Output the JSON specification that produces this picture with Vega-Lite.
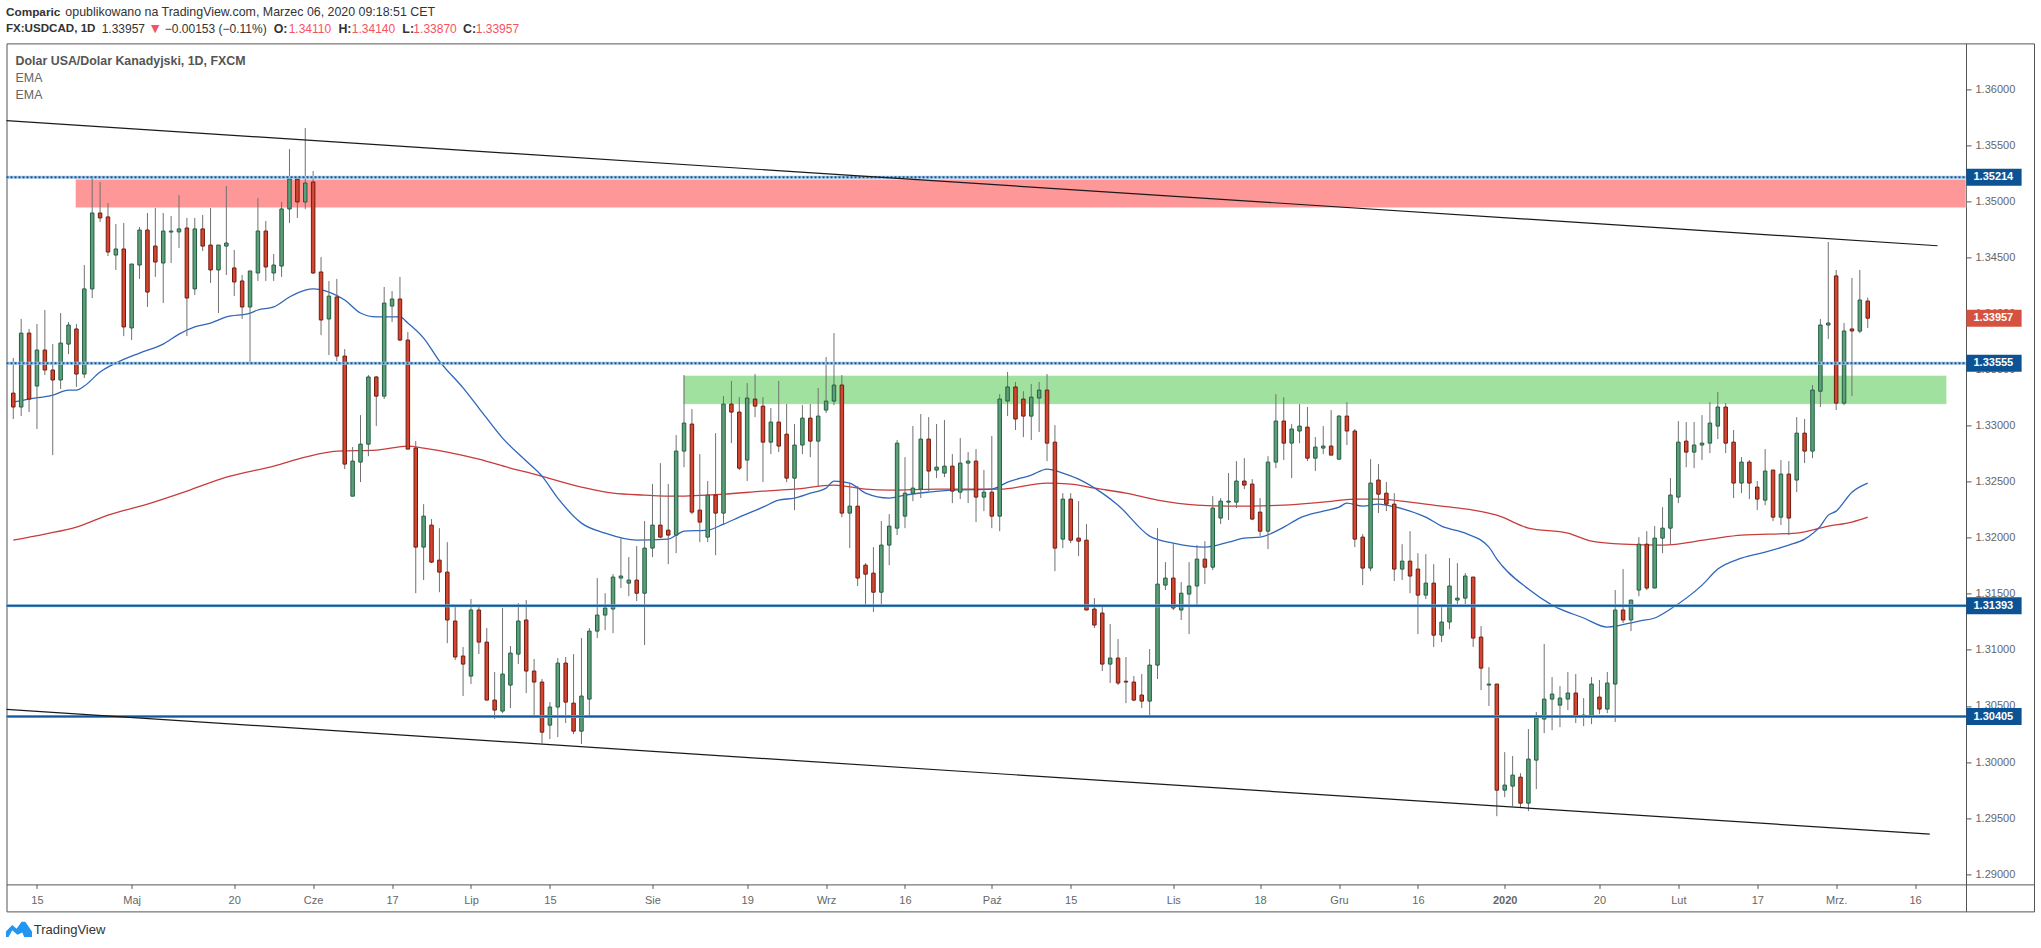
{
"$schema":"https://vega.github.io/schema/vega-lite/v6.json",
"width":2027.5,"height":868,"autosize":"none",
"padding":{"left":6.5,"top":43.4,"right":7,"bottom":36.6},
"background":"white",
"datasets":{
"candles":[
{"bar":0,"open":1.33289,"high":1.33602,"low":1.33058,"close":1.33165},
{"bar":1,"open":1.33165,"high":1.33950,"low":1.33084,"close":1.33824},
{"bar":2,"open":1.33824,"high":1.33861,"low":1.33120,"close":1.33236},
{"bar":3,"open":1.33352,"high":1.33905,"low":1.32969,"close":1.33673},
{"bar":4,"open":1.33673,"high":1.34030,"low":1.33450,"close":1.33495},
{"bar":5,"open":1.33495,"high":1.33726,"low":1.32736,"close":1.33406},
{"bar":6,"open":1.33406,"high":1.34003,"low":1.33326,"close":1.33735},
{"bar":7,"open":1.33726,"high":1.33923,"low":1.33637,"close":1.33896},
{"bar":8,"open":1.33861,"high":1.33905,"low":1.33344,"close":1.33459},
{"bar":9,"open":1.33459,"high":1.34431,"low":1.33424,"close":1.34218},
{"bar":10,"open":1.34218,"high":1.35207,"low":1.34137,"close":1.34895},
{"bar":11,"open":1.34895,"high":1.35171,"low":1.34815,"close":1.34851},
{"bar":12,"open":1.34860,"high":1.34984,"low":1.34511,"close":1.34547},
{"bar":13,"open":1.34520,"high":1.34797,"low":1.34387,"close":1.34574},
{"bar":14,"open":1.34574,"high":1.34806,"low":1.33797,"close":1.33879},
{"bar":15,"open":1.33870,"high":1.34440,"low":1.33762,"close":1.34440},
{"bar":16,"open":1.34431,"high":1.34770,"low":1.34307,"close":1.34743},
{"bar":17,"open":1.34743,"high":1.34895,"low":1.34057,"close":1.34190},
{"bar":18,"open":1.34600,"high":1.34940,"low":1.34325,"close":1.34458},
{"bar":19,"open":1.34449,"high":1.34895,"low":1.34092,"close":1.34734},
{"bar":20,"open":1.34725,"high":1.34868,"low":1.34449,"close":1.34734},
{"bar":21,"open":1.34726,"high":1.35054,"low":1.34583,"close":1.34753},
{"bar":22,"open":1.34761,"high":1.34851,"low":1.33797,"close":1.34137},
{"bar":23,"open":1.34218,"high":1.34851,"low":1.34164,"close":1.34753},
{"bar":24,"open":1.34753,"high":1.34877,"low":1.34556,"close":1.34600},
{"bar":25,"open":1.34609,"high":1.34940,"low":1.34271,"close":1.34387},
{"bar":26,"open":1.34387,"high":1.34609,"low":1.34003,"close":1.34609},
{"bar":27,"open":1.34600,"high":1.35135,"low":1.34342,"close":1.34627},
{"bar":28,"open":1.34405,"high":1.34565,"low":1.34154,"close":1.34280},
{"bar":29,"open":1.34289,"high":1.34342,"low":1.33950,"close":1.34057},
{"bar":30,"open":1.34057,"high":1.34378,"low":1.33557,"close":1.34378},
{"bar":31,"open":1.34360,"high":1.35028,"low":1.34289,"close":1.34734},
{"bar":32,"open":1.34734,"high":1.34824,"low":1.34289,"close":1.34414},
{"bar":33,"open":1.34360,"high":1.34529,"low":1.34289,"close":1.34431},
{"bar":34,"open":1.34422,"high":1.34993,"low":1.34325,"close":1.34931},
{"bar":35,"open":1.34931,"high":1.35465,"low":1.34806,"close":1.35198},
{"bar":36,"open":1.35198,"high":1.35216,"low":1.34851,"close":1.34993},
{"bar":37,"open":1.34993,"high":1.35653,"low":1.34931,"close":1.35162},
{"bar":38,"open":1.35171,"high":1.35269,"low":1.34351,"close":1.34360},
{"bar":39,"open":1.34369,"high":1.34502,"low":1.33806,"close":1.33941},
{"bar":40,"open":1.33950,"high":1.34289,"low":1.33628,"close":1.34154},
{"bar":41,"open":1.34146,"high":1.34307,"low":1.33575,"close":1.33619},
{"bar":42,"open":1.33619,"high":1.33682,"low":1.32612,"close":1.32656},
{"bar":43,"open":1.32370,"high":1.32808,"low":1.32370,"close":1.32683},
{"bar":44,"open":1.32674,"high":1.33093,"low":1.32496,"close":1.32834},
{"bar":45,"open":1.32834,"high":1.33450,"low":1.32727,"close":1.33433},
{"bar":46,"open":1.33433,"high":1.33441,"low":1.32995,"close":1.33262},
{"bar":47,"open":1.33262,"high":1.34235,"low":1.33236,"close":1.34092},
{"bar":48,"open":1.34065,"high":1.34199,"low":1.33923,"close":1.34128},
{"bar":49,"open":1.34128,"high":1.34325,"low":1.33753,"close":1.33762},
{"bar":50,"open":1.33762,"high":1.33833,"low":1.32790,"close":1.32790},
{"bar":51,"open":1.32799,"high":1.32861,"low":1.31505,"close":1.31916},
{"bar":52,"open":1.31916,"high":1.32299,"low":1.31622,"close":1.32192},
{"bar":53,"open":1.32112,"high":1.32166,"low":1.31773,"close":1.31782},
{"bar":54,"open":1.31800,"high":1.32085,"low":1.31514,"close":1.31693},
{"bar":55,"open":1.31693,"high":1.31960,"low":1.31060,"close":1.31266},
{"bar":56,"open":1.31257,"high":1.31382,"low":1.30909,"close":1.30936},
{"bar":57,"open":1.30945,"high":1.31025,"low":1.30588,"close":1.30873},
{"bar":58,"open":1.30766,"high":1.31453,"low":1.30695,"close":1.31355},
{"bar":59,"open":1.31355,"high":1.31390,"low":1.30962,"close":1.31069},
{"bar":60,"open":1.31069,"high":1.31194,"low":1.30552,"close":1.30552},
{"bar":61,"open":1.30552,"high":1.30802,"low":1.30383,"close":1.30463},
{"bar":62,"open":1.30454,"high":1.31373,"low":1.30436,"close":1.30784},
{"bar":63,"open":1.30686,"high":1.31034,"low":1.30481,"close":1.30971},
{"bar":64,"open":1.30962,"high":1.31417,"low":1.30873,"close":1.31257},
{"bar":65,"open":1.31266,"high":1.31444,"low":1.30615,"close":1.30811},
{"bar":66,"open":1.30811,"high":1.30918,"low":1.30418,"close":1.30713},
{"bar":67,"open":1.30713,"high":1.30740,"low":1.30168,"close":1.30266},
{"bar":68,"open":1.30329,"high":1.30534,"low":1.30204,"close":1.30490},
{"bar":69,"open":1.30490,"high":1.30927,"low":1.30222,"close":1.30882},
{"bar":70,"open":1.30882,"high":1.30936,"low":1.30347,"close":1.30534},
{"bar":71,"open":1.30525,"high":1.30962,"low":1.30248,"close":1.30275},
{"bar":72,"open":1.30275,"high":1.31105,"low":1.30160,"close":1.30588},
{"bar":73,"open":1.30561,"high":1.31194,"low":1.30400,"close":1.31167},
{"bar":74,"open":1.31167,"high":1.31640,"low":1.31105,"close":1.31310},
{"bar":75,"open":1.31310,"high":1.31505,"low":1.31176,"close":1.31373},
{"bar":76,"open":1.31364,"high":1.31675,"low":1.31149,"close":1.31649},
{"bar":77,"open":1.31640,"high":1.31996,"low":1.31551,"close":1.31658},
{"bar":78,"open":1.31595,"high":1.31827,"low":1.31478,"close":1.31622},
{"bar":79,"open":1.31622,"high":1.31925,"low":1.31435,"close":1.31505},
{"bar":80,"open":1.31505,"high":1.32148,"low":1.31043,"close":1.31907},
{"bar":81,"open":1.31907,"high":1.32478,"low":1.31827,"close":1.32112},
{"bar":82,"open":1.32112,"high":1.32665,"low":1.31996,"close":1.32005},
{"bar":83,"open":1.32067,"high":1.32478,"low":1.31764,"close":1.32023},
{"bar":84,"open":1.32023,"high":1.32915,"low":1.31862,"close":1.32772},
{"bar":85,"open":1.32772,"high":1.33450,"low":1.32629,"close":1.33022},
{"bar":86,"open":1.33013,"high":1.33147,"low":1.32210,"close":1.32228},
{"bar":87,"open":1.32246,"high":1.32745,"low":1.31960,"close":1.32139},
{"bar":88,"open":1.32005,"high":1.32505,"low":1.31960,"close":1.32380},
{"bar":89,"open":1.32380,"high":1.32932,"low":1.31844,"close":1.32219},
{"bar":90,"open":1.32219,"high":1.33262,"low":1.32112,"close":1.33191},
{"bar":91,"open":1.33191,"high":1.33397,"low":1.32843,"close":1.33120},
{"bar":92,"open":1.33120,"high":1.33253,"low":1.32603,"close":1.32620},
{"bar":93,"open":1.32692,"high":1.33379,"low":1.32505,"close":1.33245},
{"bar":94,"open":1.33236,"high":1.33459,"low":1.33075,"close":1.33173},
{"bar":95,"open":1.33173,"high":1.33253,"low":1.32496,"close":1.32852},
{"bar":96,"open":1.32852,"high":1.33156,"low":1.32745,"close":1.33031},
{"bar":97,"open":1.33031,"high":1.33397,"low":1.32763,"close":1.32817},
{"bar":98,"open":1.32923,"high":1.33191,"low":1.32496,"close":1.32531},
{"bar":99,"open":1.32531,"high":1.33013,"low":1.32246,"close":1.32826},
{"bar":100,"open":1.32826,"high":1.33182,"low":1.32745,"close":1.33066},
{"bar":101,"open":1.33066,"high":1.33191,"low":1.32718,"close":1.32861},
{"bar":102,"open":1.32861,"high":1.33335,"low":1.32461,"close":1.33084},
{"bar":103,"open":1.33138,"high":1.33611,"low":1.33111,"close":1.33218},
{"bar":104,"open":1.33218,"high":1.33824,"low":1.33182,"close":1.33361},
{"bar":105,"open":1.33361,"high":1.33450,"low":1.32183,"close":1.32219},
{"bar":106,"open":1.32219,"high":1.32487,"low":1.31907,"close":1.32281},
{"bar":107,"open":1.32281,"high":1.32461,"low":1.31569,"close":1.31640},
{"bar":108,"open":1.31755,"high":1.31773,"low":1.31382,"close":1.31675},
{"bar":109,"open":1.31684,"high":1.31916,"low":1.31337,"close":1.31514},
{"bar":110,"open":1.31514,"high":1.32148,"low":1.31390,"close":1.31934},
{"bar":111,"open":1.31934,"high":1.32210,"low":1.31755,"close":1.32103},
{"bar":112,"open":1.32085,"high":1.32870,"low":1.32023,"close":1.32843},
{"bar":113,"open":1.32192,"high":1.32718,"low":1.32085,"close":1.32397},
{"bar":114,"open":1.32397,"high":1.32995,"low":1.32326,"close":1.32442},
{"bar":115,"open":1.32433,"high":1.33102,"low":1.32353,"close":1.32879},
{"bar":116,"open":1.32879,"high":1.33075,"low":1.32415,"close":1.32594},
{"bar":117,"open":1.32603,"high":1.33013,"low":1.32531,"close":1.32629},
{"bar":118,"open":1.32576,"high":1.33049,"low":1.32540,"close":1.32638},
{"bar":119,"open":1.32638,"high":1.32745,"low":1.32308,"close":1.32415},
{"bar":120,"open":1.32406,"high":1.32888,"low":1.32344,"close":1.32665},
{"bar":121,"open":1.32665,"high":1.32763,"low":1.32308,"close":1.32683},
{"bar":122,"open":1.32683,"high":1.32790,"low":1.32139,"close":1.32362},
{"bar":123,"open":1.32362,"high":1.32603,"low":1.32237,"close":1.32406},
{"bar":124,"open":1.32406,"high":1.32906,"low":1.32085,"close":1.32192},
{"bar":125,"open":1.32192,"high":1.33280,"low":1.32058,"close":1.33236},
{"bar":126,"open":1.33218,"high":1.33477,"low":1.33084,"close":1.33344},
{"bar":127,"open":1.33344,"high":1.33388,"low":1.32960,"close":1.33058},
{"bar":128,"open":1.33236,"high":1.33306,"low":1.32897,"close":1.33084},
{"bar":129,"open":1.33084,"high":1.33370,"low":1.32870,"close":1.33253},
{"bar":130,"open":1.33245,"high":1.33388,"low":1.32942,"close":1.33316},
{"bar":131,"open":1.33316,"high":1.33459,"low":1.32683,"close":1.32843},
{"bar":132,"open":1.32852,"high":1.33004,"low":1.31702,"close":1.31907},
{"bar":133,"open":1.31987,"high":1.32397,"low":1.31907,"close":1.32344},
{"bar":134,"open":1.32344,"high":1.32397,"low":1.31951,"close":1.31978},
{"bar":135,"open":1.31996,"high":1.32326,"low":1.31835,"close":1.31969},
{"bar":136,"open":1.31978,"high":1.32121,"low":1.31355,"close":1.31355},
{"bar":137,"open":1.31364,"high":1.31461,"low":1.31194,"close":1.31221},
{"bar":138,"open":1.31328,"high":1.31382,"low":1.30811,"close":1.30873},
{"bar":139,"open":1.30873,"high":1.31230,"low":1.30704,"close":1.30927},
{"bar":140,"open":1.30927,"high":1.31096,"low":1.30686,"close":1.30704},
{"bar":141,"open":1.30720,"high":1.30936,"low":1.30525,"close":1.30713},
{"bar":142,"open":1.30713,"high":1.30766,"low":1.30543,"close":1.30552},
{"bar":143,"open":1.30597,"high":1.30784,"low":1.30481,"close":1.30543},
{"bar":144,"open":1.30543,"high":1.31007,"low":1.30418,"close":1.30864},
{"bar":145,"open":1.30864,"high":1.32085,"low":1.30740,"close":1.31586},
{"bar":146,"open":1.31577,"high":1.31782,"low":1.31533,"close":1.31640},
{"bar":147,"open":1.31640,"high":1.31951,"low":1.31355,"close":1.31373},
{"bar":148,"open":1.31355,"high":1.31604,"low":1.31266,"close":1.31505},
{"bar":149,"open":1.31497,"high":1.31782,"low":1.31140,"close":1.31569},
{"bar":150,"open":1.31569,"high":1.31934,"low":1.31390,"close":1.31809},
{"bar":151,"open":1.31809,"high":1.31969,"low":1.31586,"close":1.31737},
{"bar":152,"open":1.31737,"high":1.32370,"low":1.31711,"close":1.32264},
{"bar":153,"open":1.32175,"high":1.32353,"low":1.32121,"close":1.32326},
{"bar":154,"open":1.32317,"high":1.32576,"low":1.32157,"close":1.32326},
{"bar":155,"open":1.32317,"high":1.32683,"low":1.32264,"close":1.32505},
{"bar":156,"open":1.32505,"high":1.32709,"low":1.32433,"close":1.32469},
{"bar":157,"open":1.32478,"high":1.32522,"low":1.32157,"close":1.32166},
{"bar":158,"open":1.32228,"high":1.32353,"low":1.32014,"close":1.32058},
{"bar":159,"open":1.32058,"high":1.32727,"low":1.31898,"close":1.32674},
{"bar":160,"open":1.32674,"high":1.33280,"low":1.32620,"close":1.33040},
{"bar":161,"open":1.33040,"high":1.33253,"low":1.32692,"close":1.32843},
{"bar":162,"open":1.32843,"high":1.33013,"low":1.32531,"close":1.32969},
{"bar":163,"open":1.32951,"high":1.33191,"low":1.32843,"close":1.32995},
{"bar":164,"open":1.32986,"high":1.33165,"low":1.32683,"close":1.32709},
{"bar":165,"open":1.32709,"high":1.32897,"low":1.32594,"close":1.32808},
{"bar":166,"open":1.32799,"high":1.32995,"low":1.32745,"close":1.32817},
{"bar":167,"open":1.32817,"high":1.33138,"low":1.32736,"close":1.32736},
{"bar":168,"open":1.32700,"high":1.33093,"low":1.32700,"close":1.33084},
{"bar":169,"open":1.33084,"high":1.33209,"low":1.32826,"close":1.32951},
{"bar":170,"open":1.32951,"high":1.32969,"low":1.31916,"close":1.31987},
{"bar":171,"open":1.32005,"high":1.32032,"low":1.31577,"close":1.31729},
{"bar":172,"open":1.31729,"high":1.32700,"low":1.31702,"close":1.32487},
{"bar":173,"open":1.32514,"high":1.32656,"low":1.32219,"close":1.32388},
{"bar":174,"open":1.32397,"high":1.32496,"low":1.32237,"close":1.32299},
{"bar":175,"open":1.32299,"high":1.32397,"low":1.31613,"close":1.31720},
{"bar":176,"open":1.31720,"high":1.31942,"low":1.31622,"close":1.31791},
{"bar":177,"open":1.31791,"high":1.32058,"low":1.31505,"close":1.31658},
{"bar":178,"open":1.31720,"high":1.31862,"low":1.31140,"close":1.31488},
{"bar":179,"open":1.31488,"high":1.31853,"low":1.31453,"close":1.31595},
{"bar":180,"open":1.31595,"high":1.31764,"low":1.31025,"close":1.31131},
{"bar":181,"open":1.31131,"high":1.31382,"low":1.31069,"close":1.31248},
{"bar":182,"open":1.31248,"high":1.31818,"low":1.31185,"close":1.31569},
{"bar":183,"open":1.31444,"high":1.31773,"low":1.31408,"close":1.31461},
{"bar":184,"open":1.31461,"high":1.31684,"low":1.31408,"close":1.31658},
{"bar":185,"open":1.31649,"high":1.31649,"low":1.31025,"close":1.31105},
{"bar":186,"open":1.31114,"high":1.31212,"low":1.30641,"close":1.30837},
{"bar":187,"open":1.30686,"high":1.30846,"low":1.30499,"close":1.30695},
{"bar":188,"open":1.30695,"high":1.30695,"low":1.29517,"close":1.29749},
{"bar":189,"open":1.29749,"high":1.30088,"low":1.29687,"close":1.29794},
{"bar":190,"open":1.29785,"high":1.30053,"low":1.29606,"close":1.29883},
{"bar":191,"open":1.29865,"high":1.29900,"low":1.29589,"close":1.29633},
{"bar":192,"open":1.29633,"high":1.30294,"low":1.29562,"close":1.30026},
{"bar":193,"open":1.30017,"high":1.30445,"low":1.29758,"close":1.30392},
{"bar":194,"open":1.30383,"high":1.31052,"low":1.30257,"close":1.30561},
{"bar":195,"open":1.30561,"high":1.30757,"low":1.30284,"close":1.30606},
{"bar":196,"open":1.30507,"high":1.30677,"low":1.30311,"close":1.30570},
{"bar":197,"open":1.30561,"high":1.30802,"low":1.30463,"close":1.30615},
{"bar":198,"open":1.30615,"high":1.30784,"low":1.30347,"close":1.30409},
{"bar":199,"open":1.30409,"high":1.30570,"low":1.30320,"close":1.30418},
{"bar":200,"open":1.30409,"high":1.30757,"low":1.30338,"close":1.30695},
{"bar":201,"open":1.30579,"high":1.30731,"low":1.30427,"close":1.30472},
{"bar":202,"open":1.30472,"high":1.30802,"low":1.30436,"close":1.30704},
{"bar":203,"open":1.30695,"high":1.31533,"low":1.30356,"close":1.31355},
{"bar":204,"open":1.31355,"high":1.31720,"low":1.31239,"close":1.31266},
{"bar":205,"open":1.31266,"high":1.31444,"low":1.31167,"close":1.31444},
{"bar":206,"open":1.31533,"high":1.32005,"low":1.31478,"close":1.31942},
{"bar":207,"open":1.31942,"high":1.32058,"low":1.31533,"close":1.31551},
{"bar":208,"open":1.31551,"high":1.32103,"low":1.31551,"close":1.31996},
{"bar":209,"open":1.31996,"high":1.32272,"low":1.31862,"close":1.32085},
{"bar":210,"open":1.32085,"high":1.32531,"low":1.31942,"close":1.32380},
{"bar":211,"open":1.32362,"high":1.33040,"low":1.32308,"close":1.32852},
{"bar":212,"open":1.32861,"high":1.33031,"low":1.32629,"close":1.32763},
{"bar":213,"open":1.32763,"high":1.33031,"low":1.32620,"close":1.32826},
{"bar":214,"open":1.32826,"high":1.33093,"low":1.32692,"close":1.32843},
{"bar":215,"open":1.32843,"high":1.33209,"low":1.32754,"close":1.33022},
{"bar":216,"open":1.32995,"high":1.33299,"low":1.32879,"close":1.33165},
{"bar":217,"open":1.33165,"high":1.33200,"low":1.32754,"close":1.32843},
{"bar":218,"open":1.32852,"high":1.32960,"low":1.32353,"close":1.32487},
{"bar":219,"open":1.32487,"high":1.32718,"low":1.32397,"close":1.32674},
{"bar":220,"open":1.32674,"high":1.32692,"low":1.32344,"close":1.32487},
{"bar":221,"open":1.32451,"high":1.32505,"low":1.32246,"close":1.32344},
{"bar":222,"open":1.32335,"high":1.32790,"low":1.32290,"close":1.32594},
{"bar":223,"open":1.32603,"high":1.32603,"low":1.32148,"close":1.32183},
{"bar":224,"open":1.32183,"high":1.32692,"low":1.32112,"close":1.32567},
{"bar":225,"open":1.32567,"high":1.32683,"low":1.32023,"close":1.32175},
{"bar":226,"open":1.32514,"high":1.33075,"low":1.32406,"close":1.32932},
{"bar":227,"open":1.32932,"high":1.33058,"low":1.32665,"close":1.32772},
{"bar":228,"open":1.32772,"high":1.33361,"low":1.32709,"close":1.33316},
{"bar":229,"open":1.33306,"high":1.33950,"low":1.33165,"close":1.33896},
{"bar":230,"open":1.33896,"high":1.34636,"low":1.33771,"close":1.33914},
{"bar":231,"open":1.34334,"high":1.34387,"low":1.33138,"close":1.33200},
{"bar":232,"open":1.33200,"high":1.33914,"low":1.33182,"close":1.33843},
{"bar":233,"open":1.33861,"high":1.34316,"low":1.33262,"close":1.33843},
{"bar":234,"open":1.33842,"high":1.34387,"low":1.33824,"close":1.34119},
{"bar":235,"open":1.34110,"high":1.34140,"low":1.33870,"close":1.33957}
],
"emaFast":[
{"bar":0,"ema":1.33209},{"bar":2,"ema":1.33236},{"bar":5,"ema":1.33271},{"bar":7,"ema":1.33316},{"bar":8,"ema":1.33316},{"bar":9,"ema":1.33352},{"bar":11,"ema":1.33477},{"bar":13,"ema":1.33557},{"bar":16,"ema":1.33646},{"bar":19,"ema":1.33726},{"bar":21,"ema":1.33815},{"bar":23,"ema":1.33879},{"bar":25,"ema":1.33914},{"bar":27,"ema":1.33968},{"bar":30,"ema":1.34003},{"bar":31,"ema":1.34030},{"bar":33,"ema":1.34057},{"bar":35,"ema":1.34146},{"bar":37,"ema":1.34208},{"bar":38,"ema":1.34218},{"bar":40,"ema":1.34190},{"bar":42,"ema":1.34119},{"bar":44,"ema":1.34003},{"bar":46,"ema":1.33968},{"bar":49,"ema":1.33968},{"bar":50,"ema":1.33914},{"bar":52,"ema":1.33780},{"bar":54,"ema":1.33575},{"bar":57,"ema":1.33335},{"bar":59,"ema":1.33156},{"bar":62,"ema":1.32888},{"bar":65,"ema":1.32683},{"bar":67,"ema":1.32549},{"bar":69,"ema":1.32353},{"bar":72,"ema":1.32130},{"bar":75,"ema":1.32040},{"bar":79,"ema":1.31978},{"bar":83,"ema":1.31987},{"bar":84,"ema":1.32023},{"bar":85,"ema":1.32058},{"bar":88,"ema":1.32067},{"bar":90,"ema":1.32121},{"bar":92,"ema":1.32183},{"bar":95,"ema":1.32272},{"bar":97,"ema":1.32335},{"bar":99,"ema":1.32353},{"bar":101,"ema":1.32397},{"bar":103,"ema":1.32442},{"bar":104,"ema":1.32505},{"bar":106,"ema":1.32487},{"bar":108,"ema":1.32397},{"bar":111,"ema":1.32353},{"bar":113,"ema":1.32380},{"bar":116,"ema":1.32406},{"bar":119,"ema":1.32424},{"bar":124,"ema":1.32433},{"bar":126,"ema":1.32496},{"bar":129,"ema":1.32558},{"bar":131,"ema":1.32612},{"bar":133,"ema":1.32576},{"bar":135,"ema":1.32522},{"bar":138,"ema":1.32397},{"bar":140,"ema":1.32290},{"bar":144,"ema":1.32014},{"bar":147,"ema":1.31951},{"bar":151,"ema":1.31916},{"bar":154,"ema":1.31960},{"bar":156,"ema":1.31996},{"bar":158,"ema":1.32005},{"bar":161,"ema":1.32094},{"bar":163,"ema":1.32175},{"bar":166,"ema":1.32237},{"bar":168,"ema":1.32272},{"bar":169,"ema":1.32308},{"bar":171,"ema":1.32281},{"bar":173,"ema":1.32299},{"bar":174,"ema":1.32290},{"bar":177,"ema":1.32237},{"bar":179,"ema":1.32183},{"bar":181,"ema":1.32103},{"bar":184,"ema":1.32040},{"bar":187,"ema":1.31916},{"bar":188,"ema":1.31809},{"bar":192,"ema":1.31542},{"bar":195,"ema":1.31399},{"bar":199,"ema":1.31284},{"bar":202,"ema":1.31203},{"bar":206,"ema":1.31257},{"bar":208,"ema":1.31284},{"bar":210,"ema":1.31364},{"bar":214,"ema":1.31577},{"bar":216,"ema":1.31720},{"bar":219,"ema":1.31818},{"bar":222,"ema":1.31871},{"bar":225,"ema":1.31934},{"bar":227,"ema":1.31987},{"bar":229,"ema":1.32103},{"bar":230,"ema":1.32201},{"bar":231,"ema":1.32237},{"bar":233,"ema":1.32406},{"bar":235,"ema":1.32487}
],
"emaSlow":[
{"bar":0,"ema":1.31978},{"bar":4,"ema":1.32032},{"bar":8,"ema":1.32094},{"bar":12,"ema":1.32201},{"bar":17,"ema":1.32299},{"bar":22,"ema":1.32415},{"bar":27,"ema":1.32540},{"bar":33,"ema":1.32638},{"bar":37,"ema":1.32718},{"bar":41,"ema":1.32772},{"bar":46,"ema":1.32781},{"bar":50,"ema":1.32817},{"bar":52,"ema":1.32799},{"bar":59,"ema":1.32700},{"bar":63,"ema":1.32620},{"bar":66,"ema":1.32567},{"bar":72,"ema":1.32451},{"bar":76,"ema":1.32397},{"bar":80,"ema":1.32380},{"bar":84,"ema":1.32370},{"bar":90,"ema":1.32388},{"bar":95,"ema":1.32415},{"bar":99,"ema":1.32433},{"bar":104,"ema":1.32469},{"bar":108,"ema":1.32433},{"bar":111,"ema":1.32424},{"bar":117,"ema":1.32433},{"bar":125,"ema":1.32433},{"bar":131,"ema":1.32487},{"bar":134,"ema":1.32478},{"bar":137,"ema":1.32442},{"bar":141,"ema":1.32397},{"bar":145,"ema":1.32335},{"bar":150,"ema":1.32290},{"bar":154,"ema":1.32281},{"bar":161,"ema":1.32290},{"bar":166,"ema":1.32317},{"bar":170,"ema":1.32344},{"bar":173,"ema":1.32344},{"bar":177,"ema":1.32317},{"bar":181,"ema":1.32281},{"bar":185,"ema":1.32246},{"bar":188,"ema":1.32201},{"bar":192,"ema":1.32085},{"bar":197,"ema":1.32040},{"bar":200,"ema":1.31969},{"bar":204,"ema":1.31942},{"bar":209,"ema":1.31934},{"bar":215,"ema":1.31987},{"bar":219,"ema":1.32023},{"bar":226,"ema":1.32040},{"bar":230,"ema":1.32103},{"bar":233,"ema":1.32139},{"bar":235,"ema":1.32183}
],
"zones":[
{"zone":"opor","from":7.88,"to":247.45,"top":1.35195,"bottom":1.34942},
{"zone":"wsparcie","from":84.9,"to":245,"top":1.33447,"bottom":1.33189}
],
"trend":[
{"line":"gora","bar":-0.86,"price":1.35718},{"line":"gora","bar":243.85,"price":1.34603},
{"line":"dol","bar":-0.86,"price":1.30469},{"line":"dol","bar":242.86,"price":1.29357}
],
"levels":[
{"price":1.35214,"label":"1.35214","style":"dotted"},
{"price":1.33555,"label":"1.33555","style":"dotted"},
{"price":1.31393,"label":"1.31393","style":"solid"},
{"price":1.30405,"label":"1.30405","style":"solid"}
],
"last":[{"price":1.33957,"label":"1.33957"}]
},
"layer":[
{"data":{"name":"zones"},
 "mark":{"type":"rect","stroke":"#ffffff","strokeOpacity":0.45,"strokeWidth":1},
 "encoding":{
  "x":{"field":"from","type":"quantitative","scale":{"domain":[-0.86,256.07],"nice":false,"zero":false,"padding":0},"title":null,
   "axis":{"orient":"bottom","offset":-27,"values":[3,15,28,38,48,58,68,81,93,103,113,124,134,147,158,168,178,189,201,211,221,231,241],
    "labelExpr":"{'3':'15','15':'Maj','28':'20','38':'Cze','48':'17','58':'Lip','68':'15','81':'Sie','93':'19','103':'Wrz','113':'16','124':'Paź','134':'15','147':'Lis','158':'18','168':'Gru','178':'16','189':'2020','201':'20','211':'Lut','221':'17','231':'Mrz.','241':'16'}[datum.value]",
    "grid":false,"domainColor":"#555555","domainWidth":1,"tickColor":"#555555","tickSize":4,"labelColor":"#666666","labelFontSize":11,"labelFont":"Liberation Sans","labelFontWeight":{"condition":{"test":"datum.value==189","value":"bold"},"value":"normal"},"labelPadding":6,"labelOverlap":false,"labelFlush":false}},
  "x2":{"field":"to"},
  "y":{"field":"top","type":"quantitative","scale":{"domain":[1.28668,1.36407],"nice":false,"zero":false,"padding":0},"title":null,
   "axis":{"orient":"right","offset":-68,"values":[1.29,1.295,1.30,1.305,1.31,1.315,1.32,1.325,1.33,1.335,1.34,1.345,1.35,1.355,1.36],"format":".5f",
    "grid":false,"domainColor":"#555555","domainWidth":1,"tickColor":"#555555","tickSize":5,"labelColor":"#666666","labelFontSize":11,"labelFont":"Liberation Sans","labelPadding":4,"labelOverlap":false,"labelFlush":false}},
  "y2":{"field":"bottom"},
  "fill":{"field":"zone","type":"nominal","scale":{"domain":["opor","wsparcie"],"range":["#fe9797","#a1e19f"]},"legend":null}
 }},
{"data":{"name":"emaSlow"},"mark":{"type":"line","color":"#c83c3c","strokeWidth":1.3,"interpolate":"monotone"},
 "encoding":{"x":{"field":"bar","type":"quantitative"},"y":{"field":"ema","type":"quantitative"}}},
{"data":{"name":"emaFast"},"mark":{"type":"line","color":"#2f66bb","strokeWidth":1.3,"interpolate":"monotone"},
 "encoding":{"x":{"field":"bar","type":"quantitative"},"y":{"field":"ema","type":"quantitative"}}},
{"data":{"name":"candles"},"mark":{"type":"rule","color":"#717171","strokeWidth":1},
 "encoding":{"x":{"field":"bar","type":"quantitative"},"y":{"field":"low","type":"quantitative"},"y2":{"field":"high"}}},
{"data":{"name":"candles"},"mark":{"type":"bar","size":3.5,"strokeWidth":1,"orient":"vertical"},
 "encoding":{"x":{"field":"bar","type":"quantitative"},"y":{"field":"open","type":"quantitative"},"y2":{"field":"close"},
  "fill":{"condition":{"test":"datum.close>=datum.open","value":"#5d9f7a"},"value":"#d5452f"},
  "stroke":{"condition":{"test":"datum.close>=datum.open","value":"#235f42"},"value":"#6f1d10"}}},
{"data":{"name":"levels"},"mark":{"type":"rule","color":"#a9c7e3","strokeWidth":3},
 "encoding":{"y":{"field":"price","type":"quantitative"},"x":{"datum":-0.86,"type":"quantitative"},"x2":{"datum":247.45}}},
{"data":{"name":"levels"},"transform":[{"filter":"datum.style=='solid'"}],"mark":{"type":"rule","color":"#0f5a9c","strokeWidth":2},
 "encoding":{"y":{"field":"price","type":"quantitative"},"x":{"datum":-0.86,"type":"quantitative"},"x2":{"datum":247.45}}},
{"data":{"name":"levels"},"transform":[{"filter":"datum.style=='dotted'"}],"mark":{"type":"rule","color":"#0f5a9c","strokeWidth":2,"strokeDash":[2,2]},
 "encoding":{"y":{"field":"price","type":"quantitative"},"x":{"datum":-0.86,"type":"quantitative"},"x2":{"datum":247.45}}},
{"data":{"name":"trend"},"mark":{"type":"line","color":"#1a1a1a","strokeWidth":1.2},
 "encoding":{"x":{"field":"bar","type":"quantitative"},"y":{"field":"price","type":"quantitative"},"detail":{"field":"line"}}},
{"data":{"name":"levels"},"mark":{"type":"bar","size":17,"orient":"horizontal","color":"#0b5394"},
 "encoding":{"y":{"field":"price","type":"quantitative"},"x":{"datum":247.5,"type":"quantitative"},"x2":{"datum":254.5}}},
{"data":{"name":"last"},"mark":{"type":"bar","size":17,"orient":"horizontal","color":"#d4523f"},
 "encoding":{"y":{"field":"price","type":"quantitative"},"x":{"datum":247.5,"type":"quantitative"},"x2":{"datum":254.5}}},
{"data":{"name":"levels"},"mark":{"type":"text","color":"#ffffff","fontWeight":"bold","fontSize":11},
 "encoding":{"y":{"field":"price","type":"quantitative"},"x":{"datum":248.4,"type":"quantitative"},"text":{"field":"label"}}},
{"data":{"name":"last"},"mark":{"type":"text","color":"#ffffff","fontWeight":"bold","fontSize":11},
 "encoding":{"y":{"field":"price","type":"quantitative"},"x":{"datum":248.4,"type":"quantitative"},"text":{"field":"label"}}},
{"data":{"values":[{}]},"mark":{"type":"text","text":"Dolar USA/Dolar Kanadyjski, 1D, FXCM","color":"#555555","fontWeight":"bold"},
 "encoding":{"x":{"datum":0.29,"type":"quantitative"},"y":{"datum":1.36253,"type":"quantitative"}}},
{"data":{"values":[{}]},"mark":{"type":"text","text":"EMA","color":"#666666"},
 "encoding":{"x":{"datum":0.29,"type":"quantitative"},"y":{"datum":1.36101,"type":"quantitative"}}},
{"data":{"values":[{}]},"mark":{"type":"text","text":"EMA","color":"#666666"},
 "encoding":{"x":{"datum":0.29,"type":"quantitative"},"y":{"datum":1.35950,"type":"quantitative"}}},
{"data":{"values":[{}]},"mark":{"type":"text","text":"Comparic","color":"#333333","fontWeight":"bold","fontSize":11.8},
 "encoding":{"x":{"datum":-0.93,"type":"quantitative"},"y":{"datum":1.36687,"type":"quantitative"}}},
{"data":{"values":[{}]},"mark":{"type":"text","text":"opublikowano na TradingView.com, Marzec 06, 2020 09:18:51 CET","color":"#333333"},
 "encoding":{"x":{"datum":6.6,"type":"quantitative"},"y":{"datum":1.36687,"type":"quantitative"}}},
{"data":{"values":[{}]},"mark":{"type":"text","text":"FX:USDCAD, 1D","color":"#333333","fontWeight":"bold","fontSize":11.6},
 "encoding":{"x":{"datum":-0.93,"type":"quantitative"},"y":{"datum":1.36535,"type":"quantitative"}}},
{"data":{"values":[{}]},"mark":{"type":"text","text":"1.33957","color":"#333333","fontSize":12},
 "encoding":{"x":{"datum":11.2,"type":"quantitative"},"y":{"datum":1.36535,"type":"quantitative"}}},
{"data":{"values":[{}]},"mark":{"type":"text","text":"▼","color":"#f7525f","fontSize":14},
 "encoding":{"x":{"datum":17.1,"type":"quantitative"},"y":{"datum":1.36535,"type":"quantitative"}}},
{"data":{"values":[{}]},"mark":{"type":"text","text":"−0.00153 (−0.11%)","color":"#333333","fontSize":12},
 "encoding":{"x":{"datum":19.2,"type":"quantitative"},"y":{"datum":1.36535,"type":"quantitative"}}},
{"data":{"values":[{}]},"mark":{"type":"text","text":"O:","color":"#333333","fontWeight":"bold"},
 "encoding":{"x":{"datum":33,"type":"quantitative"},"y":{"datum":1.36535,"type":"quantitative"}}},
{"data":{"values":[{}]},"mark":{"type":"text","text":"1.34110","color":"#f7525f","fontSize":12},
 "encoding":{"x":{"datum":34.9,"type":"quantitative"},"y":{"datum":1.36535,"type":"quantitative"}}},
{"data":{"values":[{}]},"mark":{"type":"text","text":"H:","color":"#333333","fontWeight":"bold"},
 "encoding":{"x":{"datum":41.2,"type":"quantitative"},"y":{"datum":1.36535,"type":"quantitative"}}},
{"data":{"values":[{}]},"mark":{"type":"text","text":"1.34140","color":"#f7525f","fontSize":12},
 "encoding":{"x":{"datum":42.9,"type":"quantitative"},"y":{"datum":1.36535,"type":"quantitative"}}},
{"data":{"values":[{}]},"mark":{"type":"text","text":"L:","color":"#333333","fontWeight":"bold"},
 "encoding":{"x":{"datum":49.3,"type":"quantitative"},"y":{"datum":1.36535,"type":"quantitative"}}},
{"data":{"values":[{}]},"mark":{"type":"text","text":"1.33870","color":"#f7525f","fontSize":12},
 "encoding":{"x":{"datum":50.7,"type":"quantitative"},"y":{"datum":1.36535,"type":"quantitative"}}},
{"data":{"values":[{}]},"mark":{"type":"text","text":"C:","color":"#333333","fontWeight":"bold"},
 "encoding":{"x":{"datum":57,"type":"quantitative"},"y":{"datum":1.36535,"type":"quantitative"}}},
{"data":{"values":[{}]},"mark":{"type":"text","text":"1.33957","color":"#f7525f","fontSize":12},
 "encoding":{"x":{"datum":58.6,"type":"quantitative"},"y":{"datum":1.36535,"type":"quantitative"}}},
{"data":{"values":[{}]},"mark":{"type":"point","filled":true,"opacity":1,"color":"#2196f3","size":676,"shape":"M-1,0.58 L-1,0.16 L-0.52,-0.34 L-0.18,-0.04 L0.2,-0.58 L0.48,-0.58 L1,0.16 L1,0.58 L0.4,0.58 L0.26,0.24 L-0.12,0.42 L-0.52,0.06 L-0.8,0.58 Z"},
 "encoding":{"x":{"datum":0.72,"type":"quantitative"},"y":{"datum":1.28508,"type":"quantitative"}}},
{"data":{"values":[{}]},"mark":{"type":"text","text":"TradingView","color":"#333333","fontSize":13},
 "encoding":{"x":{"datum":2.6,"type":"quantitative"},"y":{"datum":1.28504,"type":"quantitative"}}}
],
"config":{
 "font":"Liberation Sans",
 "scale":{"continuousPadding":0},
 "view":{"stroke":"#555555","strokeWidth":1},
 "text":{"font":"Liberation Sans","fontSize":12.4,"align":"left","baseline":"middle"}
}
}
